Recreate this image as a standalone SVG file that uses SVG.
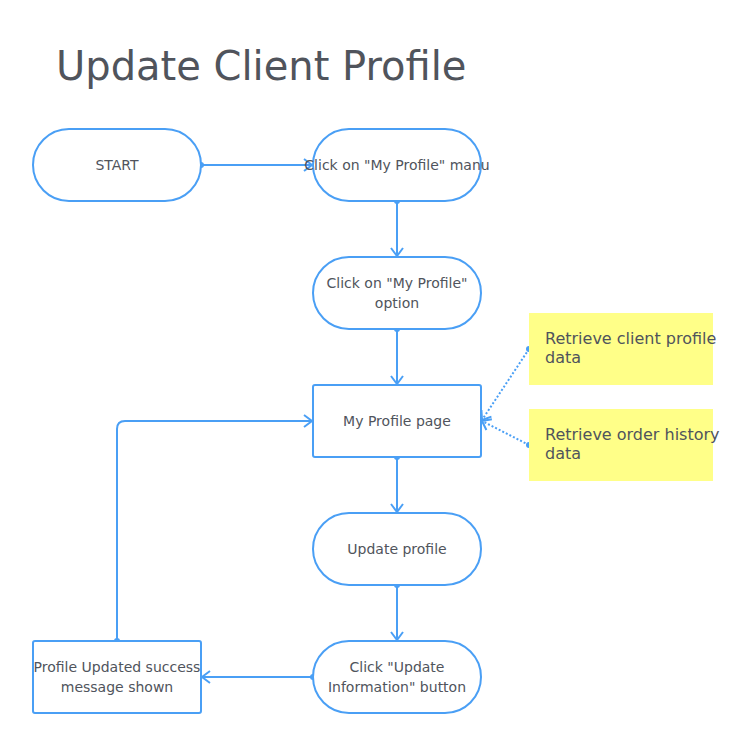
<svg xmlns="http://www.w3.org/2000/svg" width="738" height="746" viewBox="0 0 738 746">
<style>
.n{fill:#fff;stroke:#4a9ff5;stroke-width:2}
.t{font-family:"DejaVu Sans",sans-serif;font-size:14px;fill:#50545c;text-anchor:middle}
.nt{font-family:"DejaVu Sans",sans-serif;font-size:16px;fill:#50545c}
.c{fill:none;stroke:#4a9ff5;stroke-width:2}
.d{fill:none;stroke:#4a9ff5;stroke-width:2;stroke-dasharray:2 2}
.dot{fill:#4a9ff5}
</style>
<defs>
<marker id="a" viewBox="0 0 10 14" refX="9" refY="7" markerWidth="10" markerHeight="14" markerUnits="userSpaceOnUse" orient="auto">
<path d="M1,1 L9,7 L1,13" fill="none" stroke="#4a9ff5" stroke-width="2"/>
</marker>
</defs>
<rect width="738" height="746" fill="#fff"/>
<text x="56" y="80" font-family="DejaVu Sans,sans-serif" font-size="40" fill="#50545c">Update Client Profile</text>
<g id="connectors">
<path class="c" d="M201,165 L312,165" marker-end="url(#a)"/>
<circle class="dot" cx="201" cy="165" r="3"/>
<path class="c" d="M397,201 L397,256" marker-end="url(#a)"/>
<circle class="dot" cx="397" cy="201" r="3"/>
<path class="c" d="M397,329 L397,384" marker-end="url(#a)"/>
<circle class="dot" cx="397" cy="329" r="3"/>
<path class="c" d="M397,457 L397,512" marker-end="url(#a)"/>
<circle class="dot" cx="397" cy="457" r="3"/>
<path class="c" d="M397,585 L397,640" marker-end="url(#a)"/>
<circle class="dot" cx="397" cy="585" r="3"/>
<path class="c" d="M313,677 L202,677" marker-end="url(#a)"/>
<circle class="dot" cx="313" cy="677" r="3"/>
<path class="c" d="M117,641 L117,429 Q117,421 125,421 L312,421" marker-end="url(#a)"/>
<circle class="dot" cx="117" cy="641" r="3"/>
<path class="d" d="M529,349 L482,420" marker-end="url(#a)"/>
<circle class="dot" cx="529" cy="349" r="3"/>
<path class="d" d="M529,445 L482,421" marker-end="url(#a)"/>
<circle class="dot" cx="529" cy="445" r="3"/>
</g>
<g id="start"><rect class="n" x="33" y="129" width="168" height="72" rx="36"/><text class="t" x="117" y="170">START</text></g>
<g id="menu"><rect class="n" x="313" y="129" width="168" height="72" rx="36"/><text class="t" x="397" y="170">Click on "My Profile" manu</text></g>
<g id="option"><rect class="n" x="313" y="257" width="168" height="72" rx="36"/><text class="t" x="397" y="288">Click on "My Profile"</text><text class="t" x="397" y="308">option</text></g>
<g id="page"><rect class="n" x="313" y="385" width="168" height="72" rx="2"/><text class="t" x="397" y="426">My Profile page</text></g>
<g id="update"><rect class="n" x="313" y="513" width="168" height="72" rx="36"/><text class="t" x="397" y="554">Update profile</text></g>
<g id="click"><rect class="n" x="313" y="641" width="168" height="72" rx="36"/><text class="t" x="397" y="672">Click "Update</text><text class="t" x="397" y="692">Information" button</text></g>
<g id="success"><rect class="n" x="33" y="641" width="168" height="72" rx="2"/><text class="t" x="117" y="672">Profile Updated success</text><text class="t" x="117" y="692">message shown</text></g>
<g id="note1"><rect x="529" y="313" width="184" height="72" fill="#ffff88"/><text class="nt" x="545" y="344">Retrieve client profile</text><text class="nt" x="545" y="363">data</text></g>
<g id="note2"><rect x="529" y="409" width="184" height="72" fill="#ffff88"/><text class="nt" x="545" y="440">Retrieve order history</text><text class="nt" x="545" y="459">data</text></g>
</svg>
